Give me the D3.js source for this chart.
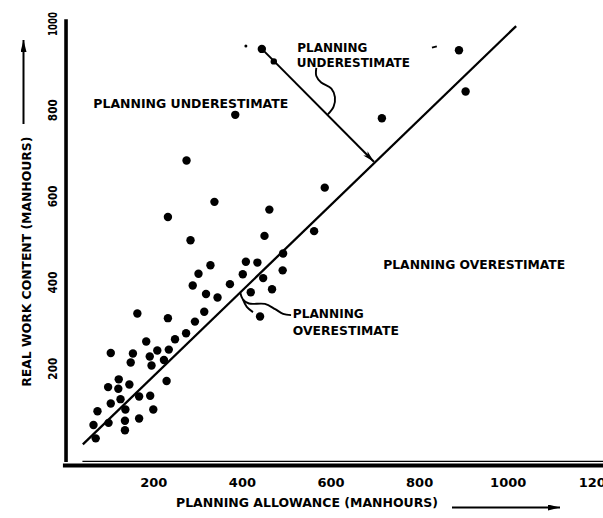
<!DOCTYPE html>
<html><head><meta charset="utf-8">
<script src="https://cdn.jsdelivr.net/npm/d3@7"></script>
<style>
html,body{margin:0;padding:0;background:#fff;}
svg{display:block;}
text{font-family:"DejaVu Sans",sans-serif;font-weight:bold;fill:#000;}
</style></head>
<body>
<svg id="chart" width="603" height="518"></svg>
<script>
// ---------- data ----------
const xTicks = [200, 400, 600, 800, 1000, 1200];
const yTicks = [200, 400, 600, 800, 1000];
// planning allowance (manhours)
const allowance = [445,890,905,385,716,275,338,233,462,587,284,451,563,493,409,435,329,302,402,492,289,448,373,319,345,420,468,315,441,233,164,294,274,249,184,235,209,104,154,192,149,224,196,230,122,98,121,146,168,193,126,104,137,200,74,168,99,136,65,136,70];
// real work content (manhours)
const workContent = [941,938,842,788,780,682,586,551,568,619,497,507,518,466,447,445,439,419,418,427,392,409,395,372,364,376,383,331,320,316,327,308,281,267,262,243,241,235,234,227,213,219,206,170,174,156,152,162,134,136,128,118,104,104,100,83,73,78,68,56,37];
// smaller (partly printed) points
const smallAllowance = [472, 409];
const smallContent = [912, 948];
// 1:1 reference line (allowance == work content)
const refAllowance = [41, 1019];
const refContent = [23, 994];
// annotation arrow (from top point down to the reference line)
const arrowAllowance = [445, 698];
const arrowContent = [941, 679];
// curly leaders
const curlyUpperA = [568, 568, 579, 602, 610, 607, 594];
const curlyUpperC = [897, 878, 863, 849, 829, 807, 789];
const curlyLowerA = [396, 402, 416, 452, 475, 493, 511];
const curlyLowerC = [376, 360, 350, 349, 337, 326, 323];
const curlyBranchA = [402, 411, 425];
const curlyBranchC = [360, 342, 330];

const svg = d3.select("#chart");
svg.append("rect").attr("width",603).attr("height",518).attr("fill","#fff");

const x = d3.scaleLinear().domain([0,1200]).range([64.7,596.3]);
const y = d3.scaleLinear().domain([0,1000]).range([454.3,23.5]);

const defs = svg.append("defs");
defs.append("marker").attr("id","ah").attr("viewBox","0 0 12 6")
  .attr("refX",12).attr("refY",3).attr("markerUnits","userSpaceOnUse")
  .attr("markerWidth",13).attr("markerHeight",6).attr("orient","auto")
  .append("path").attr("d","M0,0 L12,3 L0,6 L3,3 Z").attr("fill","#000");
defs.append("marker").attr("id","ah2").attr("viewBox","0 0 12 6")
  .attr("refX",12).attr("refY",3).attr("markerUnits","userSpaceOnUse")
  .attr("markerWidth",12).attr("markerHeight",6).attr("orient","auto")
  .append("path").attr("d","M0,0 L12,3 L0,6 Z").attr("fill","#000");

// ---------- axes ----------
// axis lines (slightly offset from zero as in the original)
svg.append("line").attr("x1",x(3)).attr("x2",x(3)).attr("y1",y(-18)).attr("y2",y(1010))
  .attr("stroke","#000").attr("stroke-width",3.6);
svg.append("line").attr("x1",x(-4)).attr("x2",603).attr("y1",y(-26)).attr("y2",y(-26))
  .attr("stroke","#000").attr("stroke-width",4);
svg.append("line").attr("x1",x(40)).attr("x2",603).attr("y1",y(-16.5)).attr("y2",y(-16.5))
  .attr("stroke","#000").attr("stroke-width",1.3);

const gx = svg.append("g").attr("transform",`translate(0,${y(-26)})`)
  .call(d3.axisBottom(x).tickValues(xTicks).tickSize(0).tickFormat(d3.format("d")));
gx.select(".domain").remove();
gx.selectAll("text").attr("y",21.5).attr("dy",0)
  .style("font-size","13px").style("font-family","DejaVu Sans").style("font-weight","bold").attr("fill","#000");

const gy = svg.append("g").attr("transform",`translate(${x(3)},0)`)
  .call(d3.axisLeft(y).tickValues(yTicks).tickSize(0).tickFormat(d3.format("d")));
gy.select(".domain").remove();
gy.selectAll("text").attr("transform","rotate(-90)").attr("x",0).attr("y",-9.5).attr("dy",0)
  .attr("text-anchor","middle")
  .style("font-size","13px").style("font-family","DejaVu Sans").style("font-weight","bold").attr("fill","#000")
  .attr("textLength", d => d >= 1000 ? 24 : 22).attr("lengthAdjust","spacingAndGlyphs");

// axis titles
svg.append("text").attr("x",176).attr("y",507).style("font-size","13px")
  .attr("textLength",262).attr("lengthAdjust","spacingAndGlyphs")
  .text("PLANNING ALLOWANCE (MANHOURS)");
svg.append("line").attr("x1",452).attr("x2",560).attr("y1",507.5).attr("y2",507.5)
  .attr("stroke","#000").attr("stroke-width",2).attr("marker-end","url(#ah2)");

svg.append("text").attr("transform","translate(30.5,261.7) rotate(-90)")
  .attr("text-anchor","middle").style("font-size","13px")
  .attr("textLength",250).attr("lengthAdjust","spacingAndGlyphs")
  .text("REAL WORK CONTENT (MANHOURS)");
svg.append("line").attr("x1",23.5).attr("x2",23.5).attr("y1",124).attr("y2",40)
  .attr("stroke","#000").attr("stroke-width",2).attr("marker-end","url(#ah2)");

// ---------- reference line ----------
const lineGen = d3.line().x(d=>x(d[0])).y(d=>y(d[1]));
svg.append("path").attr("d", lineGen(refAllowance.map((a,i)=>[a,refContent[i]])))
  .attr("stroke","#000").attr("stroke-width",2.3).attr("fill","none");

// ---------- points ----------
svg.append("g").selectAll("circle").data(allowance.map((a,i)=>[a,workContent[i]]))
  .join("circle").attr("cx",d=>x(d[0])).attr("cy",d=>y(d[1])).attr("r",4.2).attr("fill","#000");
svg.append("g").selectAll("circle").data(smallAllowance.map((a,i)=>[a,smallContent[i]]))
  .join("circle").attr("cx",d=>x(d[0])).attr("cy",d=>y(d[1])).attr("r",(d,i)=> i===0 ? 3.2 : 1.5).attr("fill","#000");
// small stray dash near the top-right point
svg.append("path").attr("d", lineGen([[829,944],[840,947]])).attr("stroke","#000").attr("stroke-width",1.8);

// ---------- annotations ----------
svg.append("path").attr("d", lineGen(arrowAllowance.map((a,i)=>[a,arrowContent[i]])))
  .attr("stroke","#000").attr("stroke-width",2).attr("fill","none").attr("marker-end","url(#ah)");

const curve = d3.line().x(d=>x(d[0])).y(d=>y(d[1])).curve(d3.curveCatmullRom);
[[curlyUpperA,curlyUpperC],[curlyLowerA,curlyLowerC],[curlyBranchA,curlyBranchC]].forEach(([A,C])=>{
  svg.append("path").attr("d", curve(A.map((a,i)=>[a,C[i]])))
    .attr("stroke","#000").attr("stroke-width",1.9).attr("fill","none");
});

const annotations = [
  {t:"PLANNING UNDERESTIMATE", a:64.6, c:802.7, w:195},
  {t:"PLANNING OVERESTIMATE", a:719, c:429, w:182},
  {t:"PLANNING", a:525, c:935, w:70},
  {t:"UNDERESTIMATE", a:524, c:898, w:113},
  {t:"PLANNING", a:515, c:316, w:71},
  {t:"OVERESTIMATE", a:515, c:277, w:106}
];
svg.append("g").selectAll("text").data(annotations).join("text")
  .attr("x",d=>x(d.a)).attr("y",d=>y(d.c)).style("font-size","13px")
  .attr("textLength",d=>d.w).attr("lengthAdjust","spacingAndGlyphs")
  .text(d=>d.t);
</script>
</body></html>
